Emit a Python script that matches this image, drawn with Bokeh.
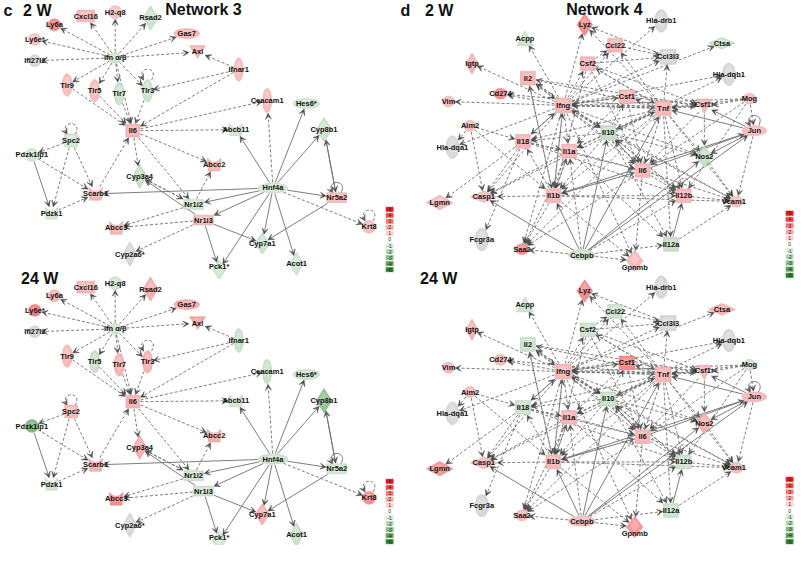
import math
import numpy as np
from bokeh.plotting import figure
from bokeh.models import Range1d, ColumnDataSource, Arrow, VeeHead
from bokeh.core.properties import value
from bokeh.embed import file_html
from bokeh.resources import INLINE

NAN = float("nan")

# ------------------------------------------------------------------ data
# Network 3 (panel c): genes and their fold changes at 2 W and 24 W
n3_nodes = ["Cxcl16", "H2-q8", "Rsad2", "Ly6a", "Ly6e*", "Gas7", "Ifn α/β", "Axl",
            "Ifi27l2", "Ifnar1", "Tlr9", "Tlr5", "Tlr7", "Tlr3", "Ceacam1", "Hes6*",
            "Il6", "Abcb11", "Cyp8b1", "Spc2", "Pdzk1ip1", "Abcc2", "Cyp3a4", "Scarb1",
            "Hnf4a", "Nr5a2", "Nr1i2", "Pdzk1", "Nr1i3", "Abcc3", "Krt8", "Cyp7a1",
            "Cyp2a6*", "Pck1*", "Acot1"]
n3_fc_2w = [1.8, 1.5, -1.4, 3.0, 1.4, 1.8, -1.4, 1.8,
            NAN, 1.6, 1.6, 1.6, -1.4, -1.4, 1.6, -1.2,
            1.8, -1.2, -1.4, -1.2, -1.2, 1.8, -1.6, 1.8,
            -1.2, 1.6, -1.2, -1.2, 1.6, 1.8, 1.6, -1.4,
            NAN, -1.2, -1.2]
n3_fc_24w = [1.8, -1.3, 2.0, 1.7, 3.2, 2.0, -1.4, 2.3,
             NAN, -1.5, 1.7, -1.5, 1.9, 1.9, -1.5, -1.3,
             1.9, -1.2, -3.0, 1.7, -3.5, 2.1, 2.0, 2.0,
             -1.3, -1.2, -1.3, -1.2, -1.3, 2.8, 2.8, 1.9,
             NAN, -1.2, -1.5]
n3_dashed = [("Ifn α/β", "Cxcl16"), ("Ifn α/β", "H2-q8"), ("Ifn α/β", "Rsad2"),
             ("Ifn α/β", "Ly6a"), ("Ifn α/β", "Ly6e*"), ("Ifn α/β", "Gas7"),
             ("Ifn α/β", "Ifi27l2"), ("Ifn α/β", "Axl"), ("Ifn α/β", "Tlr9"),
             ("Ifn α/β", "Tlr5"), ("Ifn α/β", "Tlr7"), ("Ifn α/β", "Tlr3"),
             ("Ifn α/β", "Il6"), ("Ifnar1", "Axl"), ("Ifnar1", "Tlr3"), ("Ifnar1", "Il6"),
             ("Tlr9", "Il6"), ("Tlr5", "Il6"), ("Tlr7", "Il6"), ("Tlr3", "Il6"),
             ("Il6", "Ceacam1"), ("Il6", "Abcb11"), ("Il6", "Abcc2"), ("Il6", "Cyp3a4"),
             ("Il6", "Nr1i2"), ("Scarb1", "Il6"), ("Hnf4a", "Ceacam1"), ("Hnf4a", "Krt8"),
             ("Nr1i3", "Abcc3"), ("Nr1i3", "Cyp2a6*"), ("Nr1i2", "Abcc3"), ("Nr1i2", "Abcc2"),
             ("Nr1i2", "Cyp3a4"), ("Cyp3a4", "Nr1i2"), ("Spc2", "Pdzk1ip1"), ("Spc2", "Pdzk1"),
             ("Spc2", "Scarb1"), ("Pdzk1ip1", "Scarb1"), ("Pdzk1", "Scarb1")]
n3_solid = [("Hnf4a", "Hes6*"), ("Hnf4a", "Cyp8b1"), ("Hnf4a", "Abcb11"), ("Hnf4a", "Scarb1"),
            ("Hnf4a", "Nr1i2"), ("Hnf4a", "Nr1i3"), ("Hnf4a", "Cyp7a1"), ("Hnf4a", "Pck1*"),
            ("Hnf4a", "Acot1"), ("Hnf4a", "Nr5a2"), ("Nr5a2", "Cyp7a1"), ("Nr5a2", "Cyp8b1"),
            ("Cyp8b1", "Nr5a2"), ("Nr1i3", "Cyp7a1"), ("Nr1i3", "Pck1*"), ("Nr1i3", "Cyp3a4"),
            ("Pdzk1ip1", "Pdzk1")]
n3_loops_dashed = ["Tlr3", "Spc2", "Krt8"]
n3_loops_solid = ["Nr5a2"]

# Network 4 (panel d)
n4_nodes = ["Lyz", "Hla-drb1", "Acpp", "Ccl22", "Ctsa", "Ccl3l3", "Igtp", "Csf2",
            "Hla-dqb1", "Il2", "Cd274", "Csf1", "Mog", "Vim", "Ifng", "Tnf",
            "Csf1r", "Aim2", "Jun", "Hla-dqa1", "Il18", "Il10", "Il1a", "Nos2",
            "Il6", "Lgmn", "Casp1", "Il1b", "Il12b", "Vcam1", "Fcgr3a", "Saa2",
            "Il12a", "Cebpb", "Gpnmb"]
n4_fc_2w = [2.8, NAN, -1.4, 1.8, -1.4, NAN, 1.9, 1.8,
            NAN, 1.8, 2.8, 1.8, 1.6, 1.6, 1.8, 1.8,
            1.8, 1.6, 1.6, NAN, 1.8, -1.6, 1.8, -1.6,
            1.8, 1.7, 1.6, 1.8, 1.8, 1.6, NAN, 2.8,
            -1.6, -1.4, 1.7]
n4_fc_24w = [2.8, NAN, -1.4, -1.4, 1.9, NAN, 1.9, -1.4,
             NAN, -1.4, 1.7, 3.0, -1.4, 1.7, 1.8, 1.8,
             1.8, 1.7, 1.7, NAN, -1.4, -1.5, 1.8, 2.0,
             1.8, 2.6, 1.7, 1.8, -1.4, 1.7, NAN, 1.7,
             -1.4, 1.7, 2.6]
n4_dashed = [("Ifng", t) for t in ["Lyz", "Acpp", "Igtp", "Il2", "Cd274", "Vim", "Hla-drb1",
                                   "Ccl22", "Csf2", "Ccl3l3", "Csf1", "Tnf", "Hla-dqb1", "Ctsa",
                                   "Csf1r", "Il10", "Il1a", "Il1b", "Il6", "Casp1", "Saa2",
                                   "Nos2", "Vcam1", "Il12b", "Hla-dqa1", "Gpnmb"]] + \
            [("Aim2", t) for t in ["Hla-dqa1", "Casp1", "Il18", "Il1b"]] + \
            [("Il18", t) for t in ["Lgmn", "Fcgr3a", "Ifng", "Il1a", "Il6", "Il12b", "Casp1"]] + \
            [("Il1b", t) for t in ["Casp1", "Il18", "Il6", "Saa2", "Il12b", "Gpnmb", "Vcam1",
                                   "Il1a", "Il2", "Ifng"]] + \
            [("Il1a", t) for t in ["Il1b", "Il6", "Saa2", "Casp1", "Il12a"]] + \
            [("Tnf", t) for t in ["Ccl3l3", "Ccl22", "Csf1", "Il6", "Il1b", "Nos2", "Vcam1",
                                  "Il12b", "Il10", "Il1a", "Casp1", "Saa2", "Ifng", "Il18",
                                  "Csf2", "Il2", "Lyz", "Cd274", "Il12a"]] + \
            [("Csf2", t) for t in ["Ccl3l3", "Ccl22", "Il1b", "Il6", "Csf1r", "Tnf"]] + \
            [("Ccl3l3", "Lyz"), ("Ccl22", "Ccl3l3")] + \
            [("Csf1", t) for t in ["Csf1r", "Il1a", "Il6", "Ifng"]] + \
            [("Csf1r", t) for t in ["Il6", "Nos2", "Tnf"]] + \
            [("Mog", t) for t in ["Ifng", "Tnf", "Jun", "Il12b", "Il6", "Csf1r"]] + \
            [("Il10", t) for t in ["Il12a", "Il12b", "Il6", "Il1b", "Ifng", "Tnf", "Il1a",
                                   "Csf1", "Il18", "Nos2", "Il2", "Hla-dqb1", "Vcam1"]] + \
            [("Il2", t) for t in ["Ifng", "Il1b", "Il10", "Csf1r"]] + \
            [("Il6", t) for t in ["Saa2", "Il12b", "Il1b", "Gpnmb", "Vcam1", "Il10"]] + \
            [("Il12b", "Vcam1"), ("Il12b", "Il10"), ("Il12a", "Vcam1"), ("Nos2", "Vcam1"),
             ("Jun", "Vcam1")] + \
            [("Cebpb", t) for t in ["Il12a", "Saa2", "Il12b", "Gpnmb", "Il1a"]]
n4_solid = [("Ifng", "Il18"), ("Cebpb", "Il1b"), ("Cebpb", "Casp1"), ("Cebpb", "Il10"),
            ("Cebpb", "Tnf"), ("Cebpb", "Nos2"), ("Cebpb", "Jun"), ("Il6", "Jun"),
            ("Jun", "Il1b"), ("Jun", "Tnf"), ("Jun", "Csf1r"), ("Jun", "Nos2"),
            ("Il12a", "Il12b")]
n4_loops_dashed = ["Il12b"]
n4_loops_solid = ["Jun"]

legend_values = [5, 4, 3, 2, 1, 0, -1, -2, -3, -4, -5]
legend_labels = ["5", "4", "3", "2", "1", "0", "-1", "-2", "-3", "-4", "-5"]
legend_colors = ["#ff1010", "#ff4545", "#ff7777", "#ffa5a5", "#ffd2d2", "#ffffff",
                 "#d9ecd9", "#b3d9b3", "#86bf86", "#5aa35a", "#2e862e"]

# ------------------------------------------------------------------ layout
# (x, y, shape, width, height[, label dx, label dy]) in reference-pixel units
n3_layout = {
    "Cxcl16": (87, 16, "sq", 18, 12), "H2-q8": (117, 12, "ell", 13, 13),
    "Rsad2": (153, 18, "dia", 15, 25), "Ly6a": (55, 25, "ell", 13, 12),
    "Ly6e*": (35, 40, "ell", 13, 12), "Gas7": (190, 34, "ell", 26, 10),
    "Ifn α/β": (117, 59, "ell", 11, 11), "Axl": (201, 53, "itri", 16, 13),
    "Ifi27l2": (35, 62, "ell", 12, 12), "Ifnar1": (243, 71, "ell", 9, 24),
    "Tlr9": (68, 87, "ell", 10, 23), "Tlr5": (96, 93, "ell", 10, 23),
    "Tlr7": (121, 96, "ell", 10, 23), "Tlr3": (150, 93, "ell", 10, 23),
    "Ceacam1": (272, 103, "ell", 9, 25), "Hes6*": (312, 106, "ell", 27, 10),
    "Il6": (135, 134, "sq", 14, 13), "Abcb11": (240, 133, "trp", 14, 12),
    "Cyp8b1": (330, 133, "dia", 16, 25), "Spc2": (72, 144, "sq", 13, 13),
    "Pdzk1ip1": (32, 159, "ell", 13, 13), "Abcc2": (218, 169, "trp", 14, 13),
    "Cyp3a4": (142, 181, "dia", 14, 25), "Scarb1": (97, 199, "trp", 14, 13),
    "Hnf4a": (278, 193, "ell", 30, 10), "Nr5a2": (343, 203, "sq", 20, 10),
    "Nr1i2": (197, 210, "sq", 20, 10), "Pdzk1": (52, 219, "trp", 13, 12),
    "Nr1i3": (207, 226, "sq", 20, 10), "Abcc3": (118, 234, "trp", 14, 13),
    "Krt8": (376, 233, "ell", 13, 13), "Cyp7a1": (267, 250, "dia", 15, 22),
    "Cyp2a6*": (132, 261, "dia", 14, 25), "Pck1*": (223, 277, "dia", 14, 20, 0, -3),
    "Acot1": (302, 271, "dia", 14, 24),
}
n4_layout = {
    "Lyz": (596, 25, "dia", 16, 23), "Hla-drb1": (674, 21, "ell", 13, 23),
    "Acpp": (535, 39, "tri", 17, 15), "Ccl22": (627, 46, "sq", 15, 14),
    "Ctsa": (736, 44, "dia", 27, 12), "Ccl3l3": (681, 58, "sq", 16, 15),
    "Igtp": (481, 65, "dia", 12, 22), "Csf2": (599, 65, "sq", 15, 14),
    "Hla-dqb1": (743, 76, "ell", 13, 23), "Il2": (538, 80, "sq", 15, 14),
    "Cd274": (510, 96, "ell", 13, 11), "Csf1": (639, 99, "sq", 16, 14),
    "Mog": (764, 101, "ell", 12, 11), "Vim": (457, 104, "ell", 12, 11),
    "Ifng": (574, 108, "sq", 16, 15), "Tnf": (676, 111, "sq", 16, 15),
    "Csf1r": (718, 109, "itri", 15, 15, 0, -2), "Aim2": (479, 129, "ell", 12, 11),
    "Jun": (769, 134, "ell", 25, 10), "Hla-dqa1": (461, 151, "ell", 13, 23),
    "Il18": (533, 145, "sq", 15, 14), "Il10": (620, 136, "sq", 15, 14),
    "Il1a": (580, 155, "sq", 15, 14), "Nos2": (718, 161, "dia", 17, 22),
    "Il6": (655, 175, "sq", 15, 14), "Lgmn": (448, 208, "dia", 27, 15),
    "Casp1": (493, 202, "dia", 27, 12), "Il1b": (564, 201, "sq", 15, 14),
    "Il12b": (697, 201, "sq", 15, 14), "Vcam1": (751, 207, "ell", 13, 11, -3, 0),
    "Fcgr3a": (491, 246, "ell", 13, 23), "Saa2": (532, 256, "ell", 13, 11),
    "Il12a": (684, 251, "sq", 15, 14), "Cebpb": (593, 262, "ell", 27, 10),
    "Gpnmb": (647, 268, "dia", 17, 22, 0, 7),
}

W, H = 796, 545
p = figure(width=W, height=H, x_range=Range1d(0, 812), y_range=Range1d(561, 0),
           output_backend="svg", toolbar_location=None, min_border=0)
p.axis.visible = False
p.grid.visible = False
p.outline_line_color = None
p.background_fill_color = "white"

LABEL_FONT = value("Liberation Sans")


def hex2rgb(h):
    return tuple(int(h[i:i + 2], 16) for i in (1, 3, 5))


def rgb2hex(c):
    return "#%02x%02x%02x" % tuple(int(round(max(0, min(255, v)))) for v in c)


stops = dict(zip(legend_values, [hex2rgb(c) for c in legend_colors]))


def fc_color(v):
    if v != v:
        return "#d9d9d9"
    v = max(-5.0, min(5.0, v))
    lo = math.floor(v)
    hi = min(5, lo + 1)
    f = v - lo
    a, b = stops[lo], stops[hi]
    c = [a[i] + (b[i] - a[i]) * f for i in range(3)]
    # slightly muted, as in the rendered network nodes
    return rgb2hex([ci * 0.85 + 228 * 0.15 for ci in c])


def mix(hx, target, k):
    c = hex2rgb(hx)
    return rgb2hex([v * (1 - k) + target * k for v in c])


def node_poly(kind, x, y, w, h):
    a, b = w / 2.0, h / 2.0
    if kind == "ell":
        t = np.linspace(0, 2 * np.pi, 40)
        return list(x + a * np.cos(t)), list(y + b * np.sin(t))
    if kind == "sq":
        return [x - a, x + a, x + a, x - a], [y - b, y - b, y + b, y + b]
    if kind == "dia":
        return [x, x + a, x, x - a], [y - b, y, y + b, y]
    if kind == "tri":
        return [x, x + a, x - a], [y - b, y + b, y + b]
    if kind == "itri":
        return [x - a, x + a, x], [y - b, y - b, y + b]
    # transporter: square with a concave top
    return ([x - a, x - a * 0.45, x, x + a * 0.45, x + a, x + a * 0.85, x - a * 0.85],
            [y - b, y - b * 0.5, y - b * 0.4, y - b * 0.5, y - b, y + b, y + b])


def reach(kind, w, h, ux, uy):
    a, b = w / 2.0 + 0.8, h / 2.0 + 0.8
    if kind in ("sq", "trp"):
        tx = a / abs(ux) if abs(ux) > 1e-9 else 1e9
        ty = b / abs(uy) if abs(uy) > 1e-9 else 1e9
        return min(tx, ty)
    if kind == "dia":
        return 1.0 / (abs(ux) / a + abs(uy) / b)
    return 1.0 / math.sqrt((ux / a) ** 2 + (uy / b) ** 2)


def add_arrows(src, dashed):
    if not src["x0"]:
        return
    arr = Arrow(end=VeeHead(size=6, fill_color="#4a4a4a", line_color="#4a4a4a", line_width=0.5),
                x_start="x0", y_start="y0", x_end="x1", y_end="y1",
                source=ColumnDataSource(src), line_color="#6e6e6e", line_width=0.9,
                line_dash="3 2" if dashed else "solid", level="underlay")
    p.add_layout(arr)


def draw_network(names, fcs, layout, dy, dashed, solid, loops_d, loops_s):
    def geo(n):
        L = layout[n]
        return L[0], L[1] + dy, L[2], L[3], L[4]

    for edges, is_dash in ((dashed, True), (solid, False)):
        src = dict(x0=[], y0=[], x1=[], y1=[])
        for s, t in edges:
            sx, sy, sk, sw, sh = geo(s)
            tx, ty, tk, tw, th = geo(t)
            ddx, ddy = tx - sx, ty - sy
            L = math.hypot(ddx, ddy)
            ux, uy = ddx / L, ddy / L
            r0 = reach(sk, sw, sh, ux, uy)
            r1 = reach(tk, tw, th, ux, uy)
            src["x0"].append(sx + r0 * ux)
            src["y0"].append(sy + r0 * uy)
            src["x1"].append(tx - r1 * ux)
            src["y1"].append(ty - r1 * uy)
        add_arrows(src, is_dash)

    for loops, is_dash in ((loops_d, True), (loops_s, False)):
        bz = dict(x0=[], y0=[], x1=[], y1=[], cx0=[], cy0=[], cx1=[], cy1=[])
        hd = dict(x0=[], y0=[], x1=[], y1=[])
        for n in loops:
            x, y, k, w, h = geo(n)
            top = y - h / 2.0 + 0.5
            bz["x0"].append(x + 4); bz["y0"].append(top)
            bz["x1"].append(x - 4); bz["y1"].append(top)
            bz["cx0"].append(x + 13); bz["cy0"].append(top - 15)
            bz["cx1"].append(x - 13); bz["cy1"].append(top - 15)
            hd["x0"].append(x - 6.5); hd["y0"].append(top - 4.5)
            hd["x1"].append(x - 4); hd["y1"].append(top)
        if bz["x0"]:
            p.bezier(x0="x0", y0="y0", x1="x1", y1="y1", cx0="cx0", cy0="cy0",
                     cx1="cx1", cy1="cy1", source=ColumnDataSource(bz),
                     line_color="#6e6e6e", line_width=0.9,
                     line_dash="3 2" if is_dash else "solid")
            add_arrows(hd, False)

    xs, ys, fills, lines = [], [], [], []
    hxs, hys, hfills = [], [], []
    lx, ly, lt = [], [], []
    for n, v in zip(names, fcs):
        x, y, k, w, h = geo(n)
        px, py = node_poly(k, x, y, w, h)
        xs.append(px); ys.append(py)
        fc = fc_color(v)
        fills.append(fc)
        lines.append(mix(fc, 120, 0.25))
        # inner highlight for a soft shaded look
        qx, qy = node_poly(k, x, y - h * 0.08, w * 0.6, h * 0.6)
        hxs.append(qx); hys.append(qy); hfills.append(mix(fc, 255, 0.35))
        L = layout[n]
        ldx, ldy = (L[5], L[6]) if len(L) > 5 else (0, 0)
        lx.append(x + ldx); ly.append(y + ldy); lt.append(n)
    p.patches(xs, ys, fill_color=fills, line_color=lines, line_width=0.6)
    p.patches(hxs, hys, fill_color=hfills, fill_alpha=0.55, line_color=None)
    p.text(x=lx, y=ly, text=lt, text_font=LABEL_FONT, text_font_style="bold",
           text_font_size="7.5px", text_align="center", text_baseline="middle",
           text_color="#111111")


def draw_legend(x, y0, pitch):
    ys = [y0 + i * pitch for i in range(len(legend_values))]
    p.rect(x=[x] * len(ys), y=ys, width=8.5, height=pitch - 0.8, fill_color=legend_colors,
           line_color="#ffffff", line_width=0.5)
    p.text(x=[x] * len(ys), y=ys, text=legend_labels, text_font=LABEL_FONT,
           text_font_size="5px", text_align="center", text_baseline="middle",
           text_color="#222222")


# Network 3
draw_network(n3_nodes, n3_fc_2w, n3_layout, 0, n3_dashed, n3_solid, n3_loops_dashed, n3_loops_solid)
draw_network(n3_nodes, n3_fc_24w, n3_layout, 279, n3_dashed, n3_solid, n3_loops_dashed, n3_loops_solid)
# Network 4
draw_network(n4_nodes, n4_fc_2w, n4_layout, 0, n4_dashed, n4_solid, n4_loops_dashed, n4_loops_solid)
draw_network(n4_nodes, n4_fc_24w, n4_layout, 274, n4_dashed, n4_solid, n4_loops_dashed, n4_loops_solid)

draw_legend(397, 215, 6.2)
draw_legend(397, 495, 6.2)
draw_legend(805, 219, 6.4)
draw_legend(805, 493, 6.4)

# Titles
TF = value("Liberation Sans")
p.text(x=[3, 23, 168, 408, 433, 577, 21, 428], y=[10, 10, 9, 10, 10, 9, 286, 286],
       text=["c", "2 W", "Network 3", "d", "2 W", "Network 4", "24 W", "24 W"],
       text_font=TF, text_font_style="bold", text_font_size="16px",
       text_align="left", text_baseline="middle", text_color="#111111")

open("out.html", "w").write(file_html(p, INLINE))
